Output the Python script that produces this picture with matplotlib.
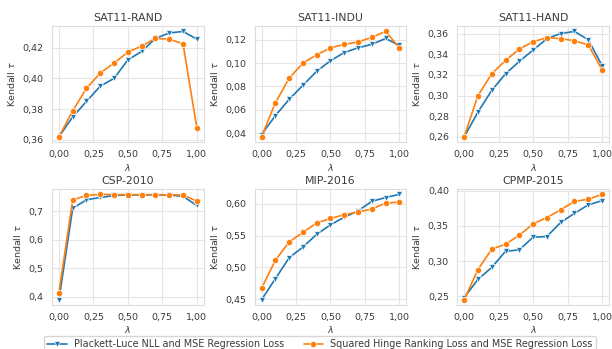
import matplotlib
matplotlib.use('Agg')
from matplotlib import pyplot as plt
from matplotlib.ticker import FuncFormatter
import seaborn as sns

lambdas = [0.0, 0.1, 0.2, 0.3, 0.4, 0.5, 0.6, 0.7, 0.8, 0.9, 1.0]

titles = ['SAT11-RAND', 'SAT11-INDU', 'SAT11-HAND', 'CSP-2010', 'MIP-2016', 'CPMP-2015']

pl_rand = [0.362, 0.375, 0.385, 0.395, 0.400, 0.412, 0.4175, 0.426, 0.4295, 0.4305, 0.4255]
hinge_rand = [0.362, 0.379, 0.3935, 0.4035, 0.410, 0.417, 0.421, 0.426, 0.4255, 0.4225, 0.368]

pl_indu = [0.039, 0.055, 0.069, 0.081, 0.093, 0.102, 0.109, 0.113, 0.116, 0.121, 0.115]
hinge_indu = [0.037, 0.066, 0.087, 0.100, 0.107, 0.113, 0.116, 0.118, 0.122, 0.127, 0.113]

pl_hand = [0.260, 0.284, 0.305, 0.321, 0.333, 0.344, 0.355, 0.360, 0.362, 0.354, 0.329]
hinge_hand = [0.260, 0.300, 0.321, 0.334, 0.345, 0.352, 0.356, 0.355, 0.353, 0.349, 0.325]

pl_csp = [0.390, 0.710, 0.740, 0.748, 0.755, 0.757, 0.757, 0.757, 0.757, 0.752, 0.720]
hinge_csp = [0.415, 0.740, 0.755, 0.759, 0.758, 0.758, 0.758, 0.758, 0.757, 0.757, 0.735]

pl_mip = [0.449, 0.482, 0.515, 0.532, 0.552, 0.567, 0.579, 0.589, 0.604, 0.610, 0.615]
hinge_mip = [0.467, 0.511, 0.540, 0.555, 0.570, 0.577, 0.583, 0.587, 0.592, 0.601, 0.603]

pl_cpmp = [0.248, 0.274, 0.291, 0.314, 0.316, 0.334, 0.335, 0.355, 0.368, 0.380, 0.386]
hinge_cpmp = [0.245, 0.288, 0.317, 0.324, 0.337, 0.353, 0.362, 0.373, 0.385, 0.388, 0.395]

pl_series = [pl_rand, pl_indu, pl_hand, pl_csp, pl_mip, pl_cpmp]
hinge_series = [hinge_rand, hinge_indu, hinge_hand, hinge_csp, hinge_mip, hinge_cpmp]

# y ticks per panel
yticks = [[0.36, 0.38, 0.40, 0.42],
          [0.04, 0.06, 0.08, 0.10, 0.12],
          [0.26, 0.28, 0.30, 0.32, 0.34, 0.36],
          [0.4, 0.5, 0.6, 0.7],
          [0.45, 0.50, 0.55, 0.60],
          [0.25, 0.30, 0.35, 0.40]]
ydec = [2, 2, 2, 1, 2, 2]

label_pl = 'Plackett-Luce NLL and MSE Regression Loss'
label_hinge = 'Squared Hinge Ranking Loss and MSE Regression Loss'


def main():
    sns.set_style('whitegrid')
    plt.rcParams['font.family'] = ['DejaVu Sans']
    blue = '#1f77b4'
    orange = '#ff7f0e'
    txt = '#3a3a3a'

    fig, axes = plt.subplots(2, 3, figsize=(6.12, 3.49), dpi=100)
    fig.subplots_adjust(left=0.085, right=0.995, top=0.925, bottom=0.126,
                        wspace=0.336, hspace=0.405)

    for ax, title, pl, hinge in zip(axes.flat, titles, pl_series, hinge_series):
        ax.plot(lambdas, pl, color=blue, marker='v', markersize=4, lw=1.2,
                markeredgecolor='white', markeredgewidth=0.5, label=label_pl)
        ax.plot(lambdas, hinge, color=orange, marker='o', markersize=4.5, lw=1.2,
                markeredgecolor='white', markeredgewidth=0.5, label=label_hinge)
        ax.set_title(title, fontsize=7.8, color=txt, pad=4)
        ax.set_ylabel(r'Kendall $\tau$', fontsize=6.8, color=txt)
        ax.set_xlabel(r'$\lambda$', fontsize=6.8, color=txt, labelpad=1.5)
        ax.set_xticks([0, 0.25, 0.5, 0.75, 1.0])
        ax.xaxis.set_major_formatter(FuncFormatter(lambda v, p: ('%.2f' % v).replace('.', ',')))
        ax.tick_params(labelsize=6.8, colors=txt, pad=2.5)
        ax.grid(True, color='#e5e5e5', lw=0.8)
        for s in ax.spines.values():
            s.set_color('#dddddd')
            s.set_linewidth(0.8)

    for ax, yt, d in zip(axes.flat, yticks, ydec):
        ax.set_yticks(yt)
        ax.yaxis.set_major_formatter(FuncFormatter(lambda v, p, d=d: ('%.*f' % (d, v)).replace('.', ',')))

    handles, labels = axes[0, 0].get_legend_handles_labels()
    leg = fig.legend(handles, labels, loc='upper center', bbox_to_anchor=(0.523, 0.036),
                     ncol=2, fontsize=6.9, frameon=True, handlelength=2.0,
                     columnspacing=2.0, borderpad=0.3, borderaxespad=0.0,
                     edgecolor='#cccccc')
    for t in leg.get_texts():
        t.set_color(txt)

    fig.savefig('out.png', dpi=100)


if __name__ == '__main__':
    main()
